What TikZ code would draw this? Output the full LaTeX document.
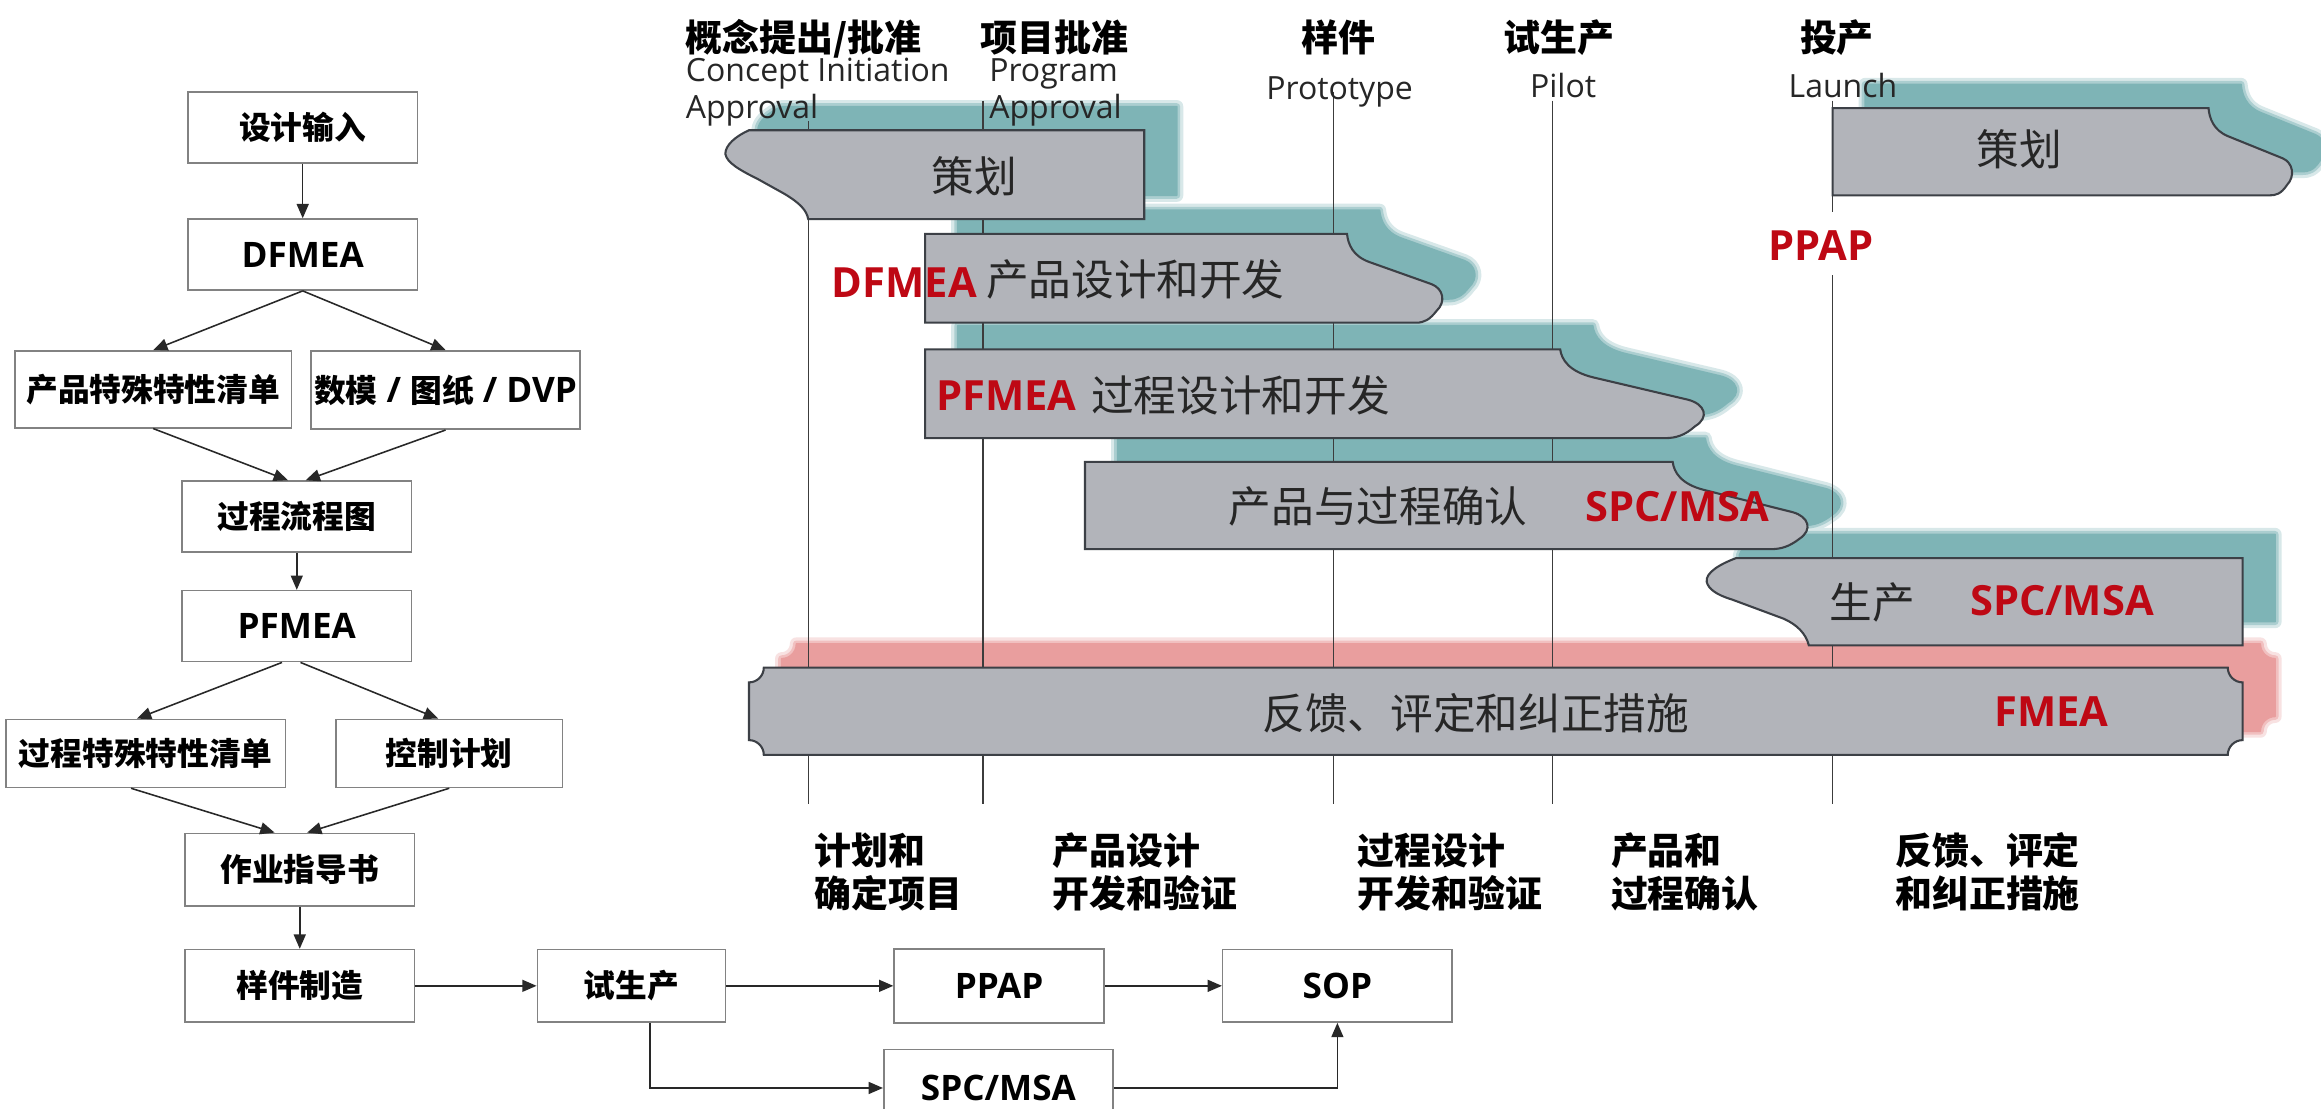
\documentclass[tikz,border=0pt]{standalone}
\usepackage{fontspec}
\setmainfont{Open Sans}
\newfontfamily\cjk{Noto Sans CJK SC}
\newfontfamily\latf{Open Sans}
\usetikzlibrary{arrows.meta}
\definecolor{tealsh}{RGB}{126,180,182}
\definecolor{pinksh}{RGB}{233,158,158}
\definecolor{bargray}{RGB}{178,180,186}
\definecolor{bardark}{RGB}{60,64,70}
\definecolor{redc}{RGB}{190,8,20}
\definecolor{boxgray}{RGB}{130,130,130}
\definecolor{arrgray}{RGB}{40,40,40}
\definecolor{linegray}{RGB}{60,60,60}
\newcommand\LatBig{\latf\fontsize{13.5}{15}\selectfont}
% bar outlines (units: displayed px, y downwards)
\newcommand\PthA{(773,88) -- (506,88) .. controls (497,92) and (490,98) .. (490,104) .. controls (491,110) and (500,115) .. (512,121) -- (530,131) .. controls (540,137) and (545,142) .. (546,148) -- (773,148) -- cycle}
\newcommand\PthB{(625,158) -- (910,158) .. controls (910.7,165) and (913.9,173) .. (925,177) -- (967.2,192) .. controls (975,195) and (977,204) .. (970.5,210) .. controls (965.9,216) and (962,218) .. (956.8,218) -- (625,218) -- cycle}
\newcommand\PthC{(625,236) -- (1054,236) .. controls (1055,243) and (1059.9,251) .. (1076.5,255) -- (1140.2,270) .. controls (1152,273) and (1155,282) .. (1145.1,288) .. controls (1138.3,294) and (1132.4,296) .. (1124.6,296) -- (625,296) -- cycle}
\newcommand\PthD{(733,312) -- (1130,312) .. controls (1130.9,319) and (1135.5,327) .. (1151.2,331) -- (1211,346) .. controls (1222,349) and (1224.8,358) .. (1215.6,364) .. controls (1209.1,369) and (1203.6,371) .. (1196.2,371) -- (733,371) -- cycle}
\newcommand\PthE{(1515,377) -- (1173,377) .. controls (1162,381) and (1152,387) .. (1153,393) .. controls (1154,398) and (1160,402) .. (1170,405) -- (1205,418) .. controls (1214,422) and (1220,428) .. (1222,436) -- (1515,436) -- cycle}
\newcommand\PthF{(516,451) -- (1505,451) .. controls (1505,456.5) and (1509.5,461) .. (1515,461) -- (1515,500) .. controls (1509.5,500) and (1505,504.5) .. (1505,510) -- (516,510) .. controls (516,504.5) and (511.5,500) .. (506,500) -- (506,461) .. controls (511.5,461) and (516,456.5) .. (516,451) -- cycle}
\newcommand\PthG{(1238,73) -- (1492,73) .. controls (1492.6,80) and (1495.4,88) .. (1505.1,92) -- (1542.2,107) .. controls (1549,110) and (1550.7,119) .. (1545,125) .. controls (1541,131) and (1537.6,132) .. (1533,132) -- (1238,132) -- cycle}
\begin{document}
\begin{tikzpicture}[x=0.02cm,y=-0.02cm,
  fbox/.style={draw=boxgray, line width=0.6pt, fill=white, inner sep=0pt, align=center,
    font=\cjk\bfseries\fontsize{12.2}{14}\selectfont},
  lat/.style={font=\latf\bfseries\fontsize{13.5}{15}\selectfont},
  arr/.style={-{Triangle[length=5.5pt,width=4.6pt]}, line width=0.6pt, draw=arrgray},
  barshape/.style={fill=bargray, draw=bardark, line width=0.8pt},
  tsoftA/.style={fill=tealsh!30, draw=tealsh!30, line width=5pt, line join=round},
  tsoftB/.style={fill=tealsh!65, draw=tealsh!65, line width=2.6pt, line join=round},
  tcore/.style={fill=tealsh, draw=tealsh, line width=0.6pt, line join=round},
  psoftA/.style={fill=pinksh!30, draw=pinksh!30, line width=5pt, line join=round},
  psoftB/.style={fill=pinksh!65, draw=pinksh!65, line width=2.6pt, line join=round},
  pcore/.style={fill=pinksh, draw=pinksh, line width=0.6pt, line join=round},
  vline/.style={draw=linegray, line width=0.55pt},
  btxt/.style={font=\cjk\fontsize{16.4}{18}\selectfont, text=black!85, inner sep=0pt},
  rtxt/.style={font=\latf\bfseries\fontsize{16}{18}\selectfont, text=redc, inner sep=0pt},
  toplab/.style={font=\cjk\bfseries\fontsize{14.2}{16}\selectfont, inner sep=0pt},
  sublab/.style={font=\latf\fontsize{12.3}{14}\selectfont, text=black!85, inner sep=0pt},
  botlab/.style={font=\cjk\bfseries\fontsize{14.2}{16}\selectfont, inner sep=0pt, anchor=base west}
]
\fill[white] (0,0) rectangle (1568,749);
\useasboundingbox (0,0) rectangle (1568,749);

% ---------------- left flow chart ----------------
\node[fbox, minimum width=3.1cm, minimum height=0.96cm] (in) at (204.5,86) {设计输入};
\node[fbox, lat, minimum width=3.1cm, minimum height=0.96cm] (dfmea) at (204.5,172) {DFMEA};
\node[fbox, minimum width=3.74cm, minimum height=1.04cm] (pscl) at (103.5,263) {产品特殊特性清单};
\node[fbox, minimum width=3.64cm, minimum height=1.06cm] (dvp) at (301,263.5) {数模{\LatBig{} / }图纸{\LatBig{} / DVP}};
\node[fbox, minimum width=3.1cm, minimum height=0.96cm] (pfd) at (200.5,349) {过程流程图};
\node[fbox, lat, minimum width=3.1cm, minimum height=0.96cm] (pfmea) at (200.5,423) {PFMEA};
\node[fbox, minimum width=3.78cm, minimum height=0.92cm] (ppcl) at (98.5,509) {过程特殊特性清单};
\node[fbox, minimum width=3.06cm, minimum height=0.92cm] (cp) at (303.5,509) {控制计划};
\node[fbox, minimum width=3.1cm, minimum height=0.98cm] (wi) at (202.5,587.5) {作业指导书};
\node[fbox, minimum width=3.1cm, minimum height=0.98cm] (proto) at (202.5,666) {样件制造};
\node[fbox, minimum width=2.54cm, minimum height=0.98cm] (pilot) at (426.5,666) {试生产};
\node[fbox, lat, minimum width=2.84cm, minimum height=1.0cm] (ppap) at (675,666) {PPAP};
\node[fbox, lat, minimum width=3.1cm, minimum height=0.98cm] (sop) at (903.5,666) {SOP};
\node[fbox, lat, minimum width=3.1cm, minimum height=1.04cm] (spc) at (674.5,735) {SPC/MSA};

\draw[arr] (in) -- (dfmea);
\draw[arr] (dfmea.south) -- (pscl.north);
\draw[arr] (dfmea.south) -- (dvp.north);
\draw[arr] (pscl.south) -- ([xshift=-0.12cm]pfd.north);
\draw[arr] (dvp.south) -- ([xshift=0.12cm]pfd.north);
\draw[arr] (pfd) -- (pfmea);
\draw[arr] ([xshift=-0.2cm]pfmea.south) -- ([xshift=-0.12cm]ppcl.north);
\draw[arr] ([xshift=0.05cm]pfmea.south) -- ([xshift=-0.15cm]cp.north);
\draw[arr] ([xshift=-0.2cm]ppcl.south) -- ([xshift=-0.34cm]wi.north);
\draw[arr] (cp.south) -- ([xshift=0.1cm]wi.north);
\draw[arr] (wi) -- (proto);
\draw[arr] (proto) -- (pilot);
\draw[arr] (pilot) -- (ppap);
\draw[arr] (ppap) -- (sop);
\draw[arr] ([xshift=0.25cm]pilot.south) |- (spc.west);
\draw[arr] (spc.east) -| (sop.south);

% ---------------- timeline ----------------
\begin{scope}[shift={(22,-16)}]
  \path[tsoftA] \PthA; \path[tsoftA] \PthB; \path[tsoftA] \PthC;
  \path[tsoftA] \PthD; \path[tsoftA] \PthE; \path[tsoftA] \PthG;
  \path[psoftA] \PthF;
  \path[tsoftB] \PthA; \path[tsoftB] \PthB; \path[tsoftB] \PthC;
  \path[tsoftB] \PthD; \path[tsoftB] \PthE; \path[tsoftB] \PthG;
  \path[psoftB] \PthF;
  \path[tcore] \PthA; \path[tcore] \PthB; \path[tcore] \PthC;
  \path[tcore] \PthD; \path[tcore] \PthE; \path[tcore] \PthG;
  \path[pcore] \PthF;
\end{scope}

\draw[vline] (546,82) -- (546,543);
\draw[vline] (664,68) -- (664,543);
\draw[vline] (901,62) -- (901,543);
\draw[vline] (1049,68) -- (1049,543);
\draw[vline] (1238,68) -- (1238,143);
\draw[vline] (1238,186) -- (1238,543);

\path[barshape] \PthA;
\path[barshape] \PthB;
\path[barshape] \PthC;
\path[barshape] \PthD;
\path[barshape] \PthE;
\path[barshape] \PthF;
\path[barshape] \PthG;

% bar texts
\node[btxt] (b1) at (658,119) {策划};
\node[rtxt] (b2r) at (611,191) {DFMEA};
\node[btxt] (b2) at (767,189) {产品设计和开发};
\node[rtxt] (b3r) at (680,267) {PFMEA};
\node[btxt] (b3) at (838,267) {过程设计和开发};
\node[btxt] (b4) at (931,342) {产品与过程确认};
\node[rtxt] (b4r) at (1133,342) {SPC/MSA};
\node[btxt] (b5) at (1265,407) {生产};
\node[rtxt] (b5r) at (1393,406) {SPC/MSA};
\node[btxt] (b6) at (997,482) {反馈、评定和纠正措施};
\node[rtxt] (b6r) at (1386,481) {FMEA};
\node[btxt] (b7) at (1364,101) {策划};
\node[rtxt] (pp) at (1230,166) {PPAP};

% top labels
\node[toplab, anchor=base west] (c1) at (463,35) {概念提出/批准};
\node[sublab, anchor=base west] (c1e) at (463,55) {Concept Initiation};
\node[sublab, anchor=base west] (c1f) at (463,80) {Approval};
\node[toplab, anchor=base west] (c2) at (662,35) {项目批准};
\node[sublab, anchor=base west] (c2e) at (668,55) {Program};
\node[sublab, anchor=base west] (c2f) at (668,80) {Approval};
\node[toplab, anchor=base] (c3) at (904,35) {样件};
\node[sublab, anchor=base] (c3e) at (905,67) {Prototype};
\node[toplab, anchor=base] (c4) at (1053,35) {试生产};
\node[sublab, anchor=base] (c4e) at (1056,66) {Pilot};
\node[toplab, anchor=base] (c5) at (1241,35) {投产};
\node[sublab, anchor=base] (c5e) at (1245,66) {Launch};

% bottom labels
\node[botlab] (d1a) at (550,584) {计划和};
\node[botlab] (d1b) at (550,613) {确定项目};
\node[botlab] (d2a) at (711,584) {产品设计};
\node[botlab] (d2b) at (711,613) {开发和验证};
\node[botlab] (d3a) at (917,584) {过程设计};
\node[botlab] (d3b) at (917,613) {开发和验证};
\node[botlab] (d4a) at (1088,584) {产品和};
\node[botlab] (d4b) at (1088,613) {过程确认};
\node[botlab] (d5a) at (1280,584) {反馈、评定};
\node[botlab] (d5b) at (1280,613) {和纠正措施};
\end{tikzpicture}
\end{document}
